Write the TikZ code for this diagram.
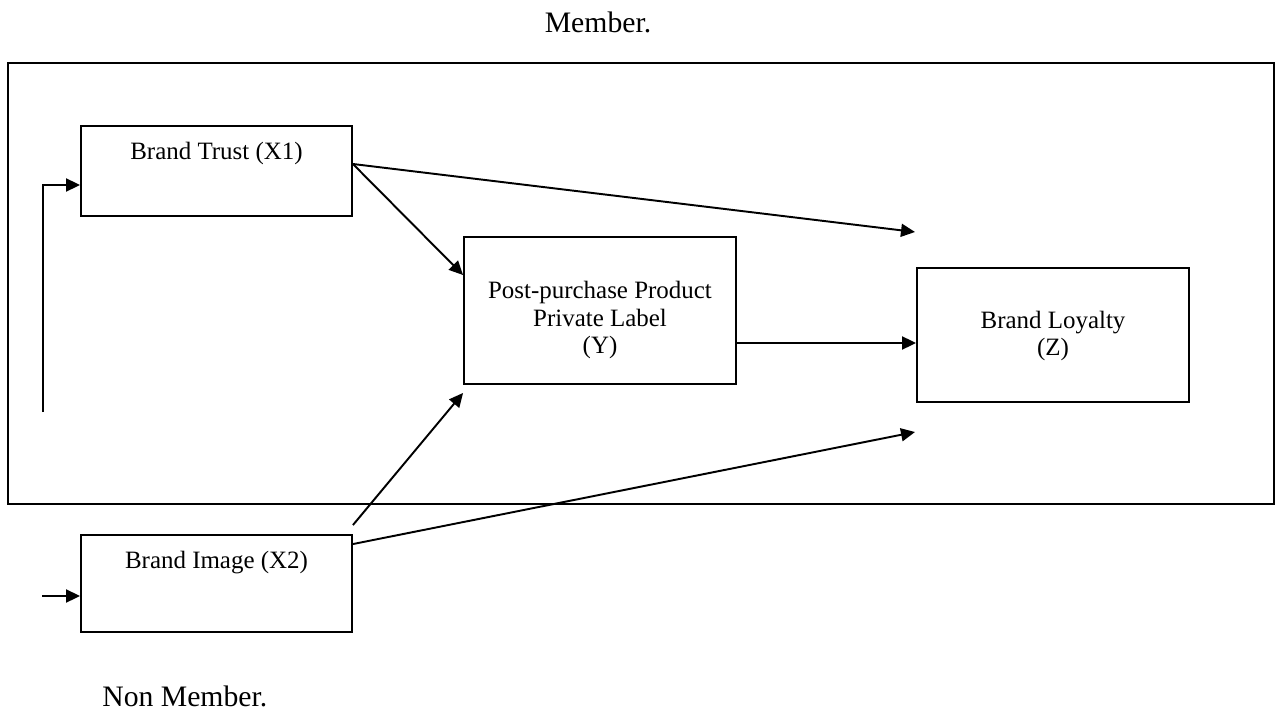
\documentclass[tikz,border=0pt]{standalone}
\usepackage{fontspec}
\setmainfont{Liberation Serif}
\usepackage{tikz}
\usetikzlibrary{arrows.meta, positioning}

\begin{document}
\begin{tikzpicture}[x=0.02cm, y=-0.02cm,
		box/.style={draw, line width=1.1pt, inner sep=0pt},
		lbl/.style={font=\fontsize{14.2}{15.9}\selectfont, align=center, inner sep=0pt},
		grouplbl/.style={font=\fontsize{16.9}{19}\selectfont, inner sep=0pt},
		arr/.style={line width=1.1pt, -{Triangle[length=0.28cm, width=0.26cm]}}]
	\useasboundingbox (0,0) rectangle (1280,710);
	
	% Rahmen
	\draw[line width=1.1pt] (8,63) rectangle (1274,504);
	\node[grouplbl, anchor=base] (member) at (598,32) {Member.};
	\node[grouplbl, anchor=base west] (nonmember) at (102,706) {Non Member.};
	
	% Kaesten
	\node[box, minimum width=5.42cm, minimum height=1.8cm] (trust) at (216.5,171) {};
	\node[box, minimum width=5.44cm, minimum height=2.94cm] (post) at (600,310.5) {};
	\node[box, minimum width=5.44cm, minimum height=2.68cm] (loyal) at (1053,335) {};
	\node[box, minimum width=5.42cm, minimum height=1.94cm] (image) at (216.5,583.5) {};
	
	\node[lbl, anchor=base] (trustlbl) at (216.5,159) {Brand Trust (X1)};
	\node[lbl] (postlbl) at (600,320) {Post-purchase Product\\Private Label\\(Y)};
	\node[lbl] (loyallbl) at (1053,336) {Brand Loyalty\\(Z)};
	\node[lbl, anchor=base] (imagelbl) at (216.5,568) {Brand Image (X2)};
	
	% Pfeile
	\coordinate (tipTop) at (915,232);
	\coordinate (tipBot) at (915,432);
	\coordinate (memberIn) at (43,412);
	\coordinate (nonIn) at (42,596);
	
	\draw[arr] ([yshift=0.14cm]trust.east) -- ([yshift=0.71cm]post.west);
	\draw[arr] ([yshift=0.14cm]trust.east) -- (tipTop);
	\draw[arr] ([yshift=-0.65cm]post.east) -- ([yshift=-0.65cm]post.east -| loyal.west);
	\draw[arr] ([yshift=0.18cm]image.north east) -- ([yshift=-0.16cm]post.south west);
	\draw[arr] ([yshift=-0.2cm]image.north east) -- (tipBot);
	\draw[arr] (memberIn) |- ([yshift=-0.28cm]trust.west);
	\draw[arr] (nonIn) -- (nonIn -| image.west);
\end{tikzpicture}
\end{document}
